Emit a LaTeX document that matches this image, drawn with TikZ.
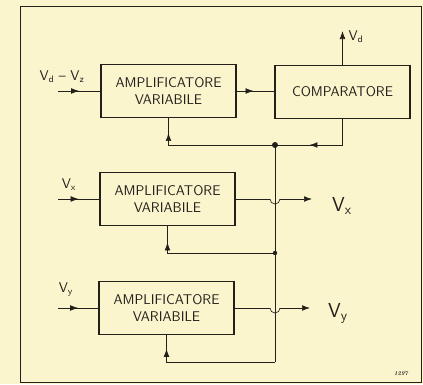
\documentclass[tikz,border=0pt]{standalone}
\usetikzlibrary{arrows.meta,decorations.markings}
\definecolor{paper}{RGB}{251,245,206}
\definecolor{ink}{RGB}{35,32,28}
\newcommand{\volt}[1]{V\textsubscript{#1}}
\tikzset{
  block/.style={draw=ink, line width=1.1pt, minimum width=4.05cm, minimum height=1.6cm,
    align=center, font=\sffamily\large, inner sep=0pt},
  wire/.style={draw=ink, line width=0.55pt},
  outarrow/.style={-{Latex[length=2.4mm,width=1.7mm]}},
  midarrow/.style={postaction={decorate}, decoration={markings,
    mark=at position #1 with {\arrow{Latex[length=2.4mm,width=1.7mm]}}}},
  sig/.style={font=\sffamily\large, inner sep=0pt}
}
\begin{document}
\begin{tikzpicture}[x=0.03cm, y=-0.03cm, every node/.style={text=ink}]
  \fill[paper] (0,0) rectangle (423,384);
  \useasboundingbox (0,0) rectangle (423,384);
  \draw[ink, line width=0.6pt] (20,6) rectangle (421,382);

  % blocks
  \node[block] (amp1) at (168.5,91) {AMPLIFICATORE\\VARIABILE};
  \node[block] (comp) at (342.5,92) {COMPARATORE};
  \node[block] (amp2) at (167.5,199) {AMPLIFICATORE\\VARIABILE};
  \node[block] (amp3) at (166.5,308) {AMPLIFICATORE\\VARIABILE};

  % inputs
  \coordinate (in1) at (58,91);
  \coordinate (in2) at (58,199);
  \coordinate (in3) at (58,308);
  \node[sig] (lin1) at (62,77) {\volt{d} -- \volt{z}};
  \node[sig] (lin2) at (69,185) {\volt{x}};
  \node[sig] (lin3) at (66,290) {\volt{y}};
  \draw[wire, midarrow=0.5] (in1) -- (amp1.west);
  \draw[wire, midarrow=0.5] (in2) -- (amp2.west);
  \draw[wire, midarrow=0.5] (in3) -- (amp3.west);

  \draw[wire, midarrow=0.45] (amp1.east) -- (comp.west |- amp1.east);

  % comparator output
  \coordinate (vd) at (342.5,31);
  \draw[wire, outarrow] (comp.north) -- (vd);
  \node[sig] (lvd) at (356,37) {\volt{d}};

  % feedback bus
  \coordinate (j1) at (275,145);
  \coordinate (j2) at (275,253);
  \coordinate (j3) at (275,362);
  \draw[wire, midarrow=0.63] (comp.south) |- (j1);
  \draw[wire, midarrow=0.89] (j1) -| (amp1.south);
  \draw[wire] (j1) -- (j3);
  \draw[wire, midarrow=0.88] (j2) -| (amp2.south);
  \draw[wire, midarrow=0.9] (j3) -| (amp3.south);
  \fill[ink] (j1) circle (3);
  \fill[ink] (j2) circle (2.2);

  % outputs with hop over the bus
  \coordinate (hopx) at (270,199);
  \coordinate (hopy) at (270,308);
  \coordinate (outx) at (312,199);
  \coordinate (outy) at (310,308);
  \draw[wire] (amp2.east) -- (hopx);
  \draw[wire] (hopx) arc[start angle=180, end angle=0, radius=5];
  \draw[wire, outarrow] (280,199) -- (outx);
  \draw[wire] (amp3.east) -- (hopy);
  \draw[wire] (hopy) arc[start angle=180, end angle=0, radius=5];
  \draw[wire, outarrow] (280,308) -- (outy);
  \node[sig, font=\sffamily\LARGE] (lox) at (342,206) {\volt{x}};
  \node[sig, font=\sffamily\LARGE] (loy) at (338,313) {\volt{y}};

  \node[font=\tiny\itshape\bfseries] (num) at (401,374) {1297};
\end{tikzpicture}
\end{document}
